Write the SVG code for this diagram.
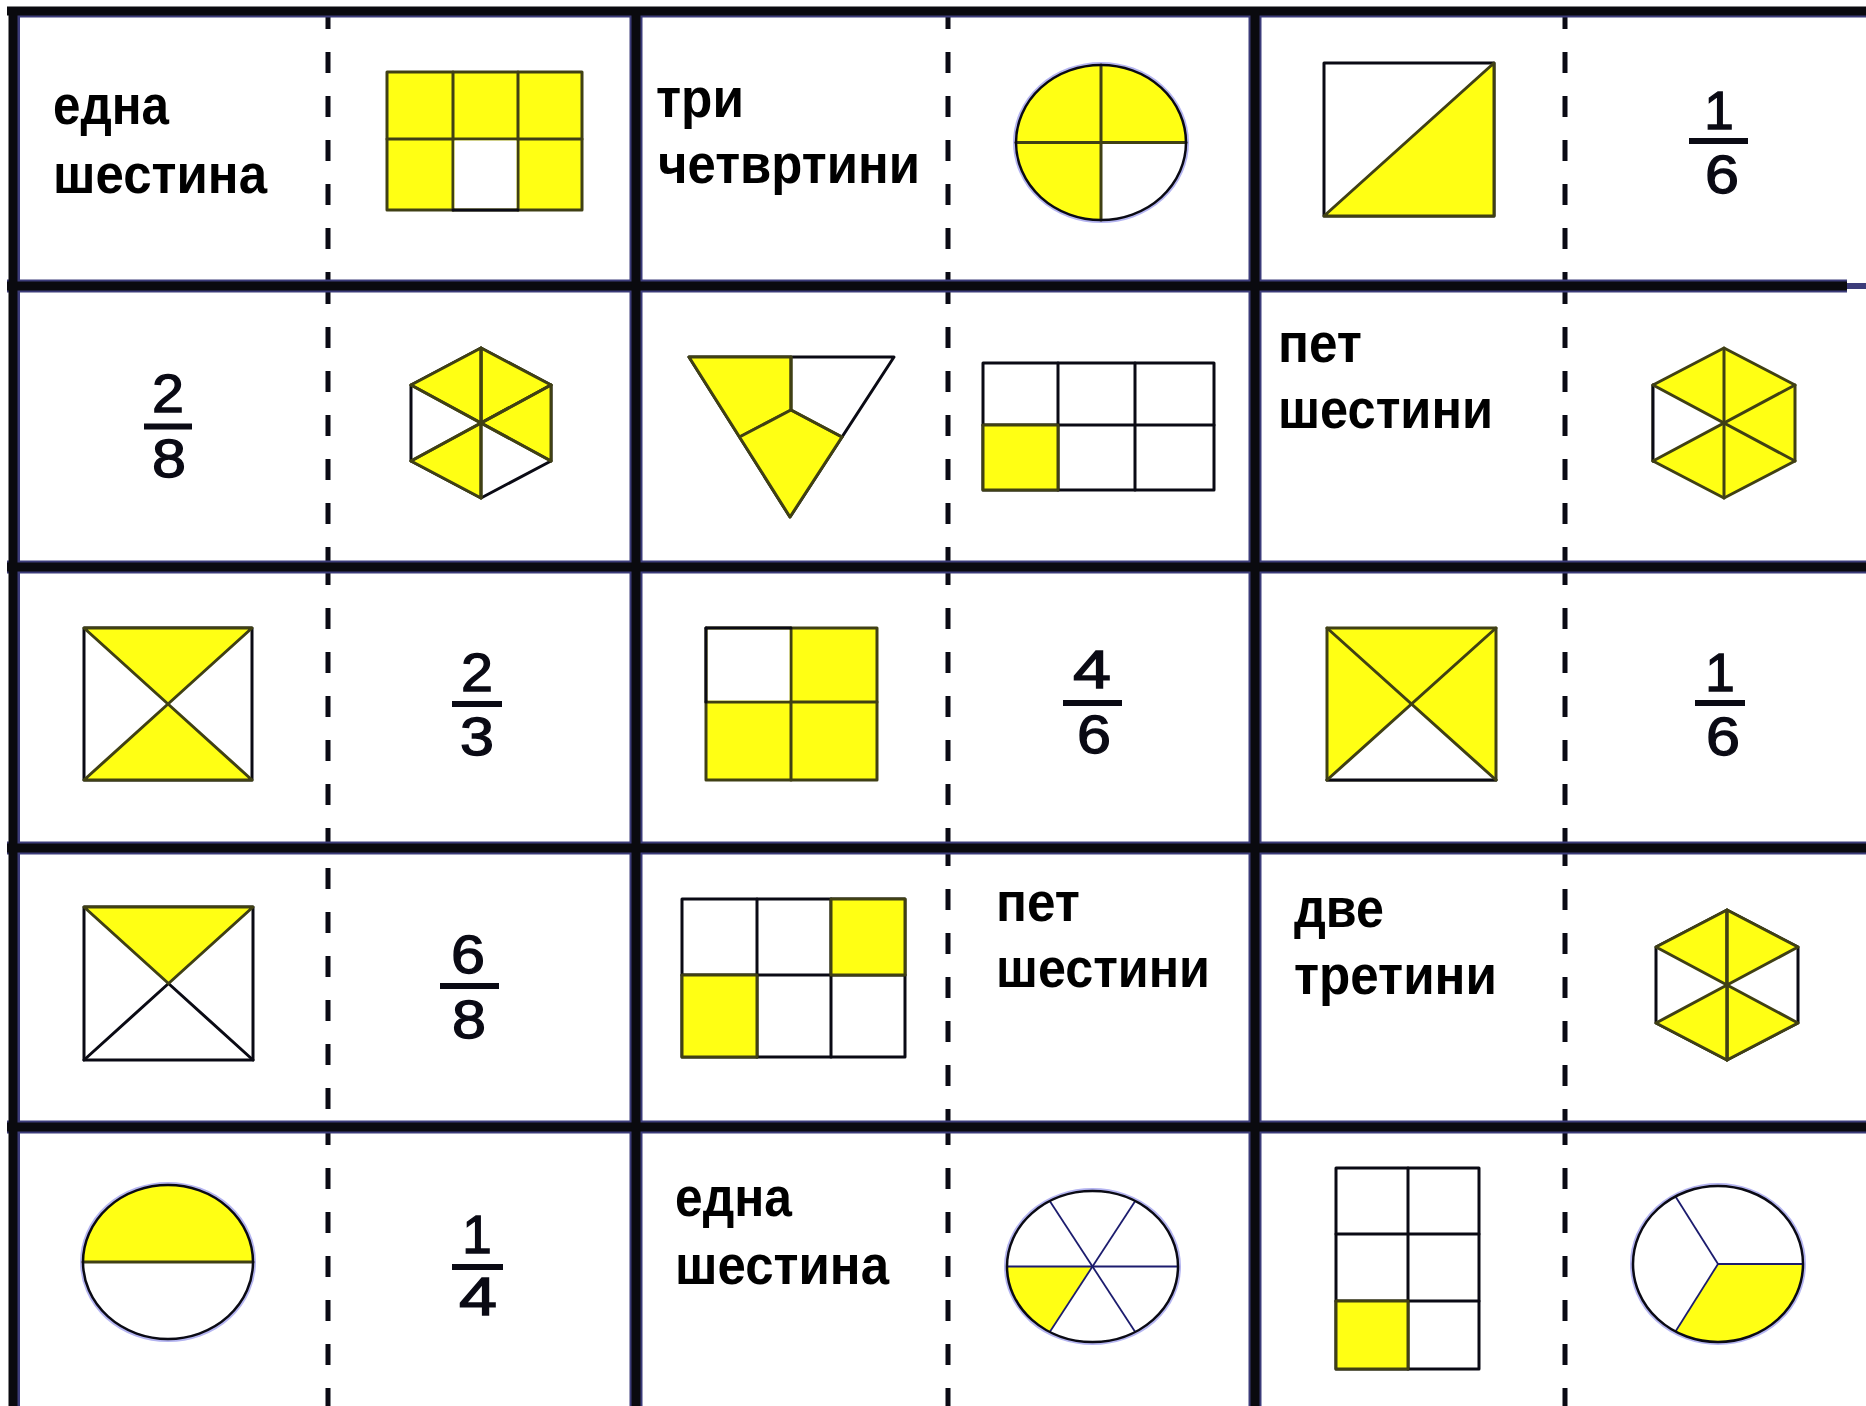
<svg xmlns="http://www.w3.org/2000/svg" width="1866" height="1406" viewBox="0 0 1866 1406">
<defs>
<style>
.y{fill:#ffff14;stroke:#404014;stroke-width:3;stroke-linejoin:round}
.yf{fill:#ffff14;stroke:none}
.wt{fill:#fff;stroke:#0a0a14;stroke-width:3;stroke-linejoin:round}
.wf{fill:#fff;stroke:none}
.ln{fill:none;stroke:#404014;stroke-width:3;stroke-linecap:round}
.lk{fill:none;stroke:#0a0a14;stroke-width:3;stroke-linecap:round}
.halo{fill:none;stroke:#b4b4f0;stroke-width:6}
.ol{fill:none;stroke:#0a0a14;stroke-width:2.5}
.thin{fill:none;stroke:#1c1c6e;stroke-width:1.8}
.word{font-family:"Liberation Sans",Arial,sans-serif;font-weight:bold;font-size:55px;fill:#000}
.dig{font-family:"Liberation Sans",Arial,sans-serif;font-size:53px;fill:#0a0a14;stroke:#0a0a14;stroke-width:1.3;text-anchor:middle}
.bar{fill:#0a0a14}
.dash{stroke:#0a0a14;stroke-width:5;stroke-dasharray:21 23}
.gn{stroke:#3c3c7a;stroke-width:13}
.gk{stroke:#0a0a0f;stroke-width:9}
</style>
</defs>
<rect x="0" y="0" width="1866" height="1406" fill="#fff"/>

<!-- Row 1 -->
<g id="card-1-1">
<text class="word" x="53" y="124" textLength="116" lengthAdjust="spacingAndGlyphs">една</text>
<text class="word" x="53" y="193" textLength="214" lengthAdjust="spacingAndGlyphs">шестина</text>
<rect class="y" x="387" y="72" width="195" height="138"/>
<line class="ln" x1="453" y1="72" x2="453" y2="210"/>
<line class="ln" x1="518" y1="72" x2="518" y2="210"/>
<line class="ln" x1="387" y1="139" x2="582" y2="139"/>
<rect class="wf" x="454.5" y="140.5" width="62" height="68"/>
<line class="lk" x1="453" y1="210" x2="518" y2="210"/>
<line class="dash" x1="328" y1="8" x2="328" y2="286"/>
</g>

<g id="card-1-2">
<text class="word" x="656" y="117" textLength="88" lengthAdjust="spacingAndGlyphs">три</text>
<text class="word" x="658" y="183" textLength="262" lengthAdjust="spacingAndGlyphs">четвртини</text>
<ellipse class="halo" cx="1101" cy="142.5" rx="85" ry="77.5"/>
<ellipse class="yf" cx="1101" cy="142.5" rx="85" ry="77.5"/>
<path class="wf" d="M1101,142.5 L1186,142.5 A85,77.5 0 0 1 1101,220 Z"/>
<line class="ln" x1="1101" y1="65" x2="1101" y2="220"/>
<line class="ln" x1="1016" y1="142.5" x2="1186" y2="142.5"/>
<ellipse class="ol" cx="1101" cy="142.5" rx="85" ry="77.5"/>
<line class="dash" x1="948" y1="8" x2="948" y2="286"/>
</g>

<g id="card-1-3">
<rect class="wt" x="1324" y="63" width="170" height="153"/>
<polygon class="y" points="1324,216 1494,63 1494,216"/>
<text class="dig" x="1719" y="129">1</text>
<rect class="bar" x="1689" y="138" width="59" height="6"/>
<text class="dig" x="1722" y="193" textLength="34" lengthAdjust="spacingAndGlyphs">6</text>
<line class="dash" x1="1565" y1="8" x2="1565" y2="286"/>
</g>

<!-- Row 2 -->
<g id="card-2-1">
<text class="dig" x="168" y="412" textLength="32" lengthAdjust="spacingAndGlyphs">2</text>
<rect class="bar" x="144" y="423.5" width="48" height="6"/>
<text class="dig" x="169" y="477" textLength="34" lengthAdjust="spacingAndGlyphs">8</text>
<polygon class="wt" points="481,348 551,385 551,461 481,498 411,461 411,385"/>
<polygon class="y" points="481,348 551,385 481,423"/>
<polygon class="y" points="551,385 551,461 481,423"/>
<polygon class="y" points="411,385 481,348 481,423"/>
<polygon class="y" points="481,498 411,461 481,423"/>
<line class="ln" x1="481" y1="348" x2="481" y2="498"/>
<line class="ln" x1="411" y1="385" x2="551" y2="461"/>
<line class="ln" x1="551" y1="385" x2="411" y2="461"/>
<line class="dash" x1="328" y1="283" x2="328" y2="567"/>
</g>

<g id="card-2-2">
<polygon class="wt" points="689,357 894,357 790,517"/>
<polygon class="y" points="689,357 791,357 791,410 739.5,437"/>
<polygon class="y" points="739.5,437 791,410 842,437 790,517"/>
<line class="ln" x1="791" y1="357" x2="791" y2="410"/>
<line class="ln" x1="791" y1="410" x2="842" y2="437"/>
<rect class="wt" x="983" y="363" width="231" height="127"/>
<line class="lk" x1="1058" y1="363" x2="1058" y2="490"/>
<line class="lk" x1="1135" y1="363" x2="1135" y2="490"/>
<line class="lk" x1="983" y1="425" x2="1214" y2="425"/>
<rect class="y" x="983" y="425" width="75" height="65"/>
<line class="dash" x1="948" y1="283" x2="948" y2="567"/>
</g>

<g id="card-2-3">
<text class="word" x="1278" y="362" textLength="84" lengthAdjust="spacingAndGlyphs">пет</text>
<text class="word" x="1278" y="428" textLength="215" lengthAdjust="spacingAndGlyphs">шестини</text>
<polygon class="y" points="1724,348 1795,385 1795,461 1724,498 1653,461 1653,385"/>
<polygon class="wf" points="1653,385 1653,461 1724,423"/>
<line class="lk" x1="1653" y1="385" x2="1653" y2="461"/>
<line class="ln" x1="1724" y1="348" x2="1724" y2="498"/>
<line class="ln" x1="1653" y1="385" x2="1795" y2="461"/>
<line class="ln" x1="1795" y1="385" x2="1653" y2="461"/>
<line class="dash" x1="1565" y1="283" x2="1565" y2="567"/>
</g>

<!-- Row 3 -->
<g id="card-3-1">
<rect class="wt" x="84" y="628" width="168" height="152"/>
<polygon class="y" points="84,628 252,628 168,704"/>
<polygon class="y" points="84,780 252,780 168,704"/>
<text class="dig" x="477" y="691" textLength="32" lengthAdjust="spacingAndGlyphs">2</text>
<rect class="bar" x="452" y="701" width="50" height="6"/>
<text class="dig" x="477" y="755" textLength="34" lengthAdjust="spacingAndGlyphs">3</text>
<line class="dash" x1="328" y1="564" x2="328" y2="848"/>
</g>

<g id="card-3-2">
<rect class="y" x="706" y="628" width="171" height="152"/>
<line class="ln" x1="791" y1="628" x2="791" y2="780"/>
<line class="ln" x1="706" y1="702" x2="877" y2="702"/>
<rect class="wf" x="707.5" y="629.5" width="82" height="71"/>
<line class="lk" x1="706" y1="628" x2="791" y2="628"/>
<line class="lk" x1="706" y1="628" x2="706" y2="702"/>
<text class="dig" x="1092" y="688" textLength="38" lengthAdjust="spacingAndGlyphs">4</text>
<rect class="bar" x="1063" y="700" width="59" height="6"/>
<text class="dig" x="1094" y="753" textLength="34" lengthAdjust="spacingAndGlyphs">6</text>
<line class="dash" x1="948" y1="564" x2="948" y2="848"/>
</g>

<g id="card-3-3">
<rect class="y" x="1327" y="628" width="169" height="152"/>
<polygon class="wf" points="1327,780 1496,780 1411.5,704"/>
<line class="lk" x1="1327" y1="780" x2="1496" y2="780"/>
<line class="ln" x1="1327" y1="628" x2="1496" y2="780"/>
<line class="ln" x1="1496" y1="628" x2="1327" y2="780"/>
<text class="dig" x="1720" y="691">1</text>
<rect class="bar" x="1695" y="700" width="50" height="6"/>
<text class="dig" x="1723" y="755" textLength="34" lengthAdjust="spacingAndGlyphs">6</text>
<line class="dash" x1="1565" y1="564" x2="1565" y2="848"/>
</g>

<!-- Row 4 -->
<g id="card-4-1">
<rect class="wt" x="84" y="907" width="169" height="153"/>
<line class="lk" x1="168.5" y1="983.5" x2="84" y2="1060"/>
<line class="lk" x1="168.5" y1="983.5" x2="253" y2="1060"/>
<polygon class="y" points="84,907 253,907 168.5,983.5"/>
<text class="dig" x="468" y="973" textLength="34" lengthAdjust="spacingAndGlyphs">6</text>
<rect class="bar" x="440" y="983" width="59" height="6"/>
<text class="dig" x="469" y="1038" textLength="34" lengthAdjust="spacingAndGlyphs">8</text>
<line class="dash" x1="328" y1="868" x2="328" y2="1127"/>
</g>

<g id="card-4-2">
<rect class="wt" x="682" y="899" width="223" height="158"/>
<line class="lk" x1="757" y1="899" x2="757" y2="1057"/>
<line class="lk" x1="831" y1="899" x2="831" y2="1057"/>
<line class="lk" x1="682" y1="975" x2="905" y2="975"/>
<rect class="y" x="831" y="899" width="74" height="76"/>
<rect class="y" x="682" y="975" width="75" height="82"/>
<text class="word" x="996" y="921" textLength="84" lengthAdjust="spacingAndGlyphs">пет</text>
<text class="word" x="996" y="987" textLength="214" lengthAdjust="spacingAndGlyphs">шестини</text>
<line class="dash" x1="948" y1="845" x2="948" y2="1127"/>
</g>

<g id="card-4-3">
<text class="word" x="1294" y="927" textLength="90" lengthAdjust="spacingAndGlyphs">две</text>
<text class="word" x="1294" y="994" textLength="203" lengthAdjust="spacingAndGlyphs">третини</text>
<polygon class="wt" points="1727,910 1798,947 1798,1023 1727,1060 1656,1023 1656,947"/>
<polygon class="y" points="1656,947 1727,910 1727,985"/>
<polygon class="y" points="1727,910 1798,947 1727,985"/>
<polygon class="y" points="1798,1023 1727,1060 1727,985"/>
<polygon class="y" points="1727,1060 1656,1023 1727,985"/>
<line class="ln" x1="1727" y1="910" x2="1727" y2="1060"/>
<line class="dash" x1="1565" y1="845" x2="1565" y2="1127"/>
</g>

<!-- Row 5 -->
<g id="card-5-1">
<ellipse class="halo" cx="168" cy="1262" rx="85" ry="77"/>
<ellipse class="wf" cx="168" cy="1262" rx="85" ry="77"/>
<path class="yf" d="M83,1262 A85,77 0 0 1 253,1262 Z"/>
<line class="ln" x1="83" y1="1262" x2="253" y2="1262"/>
<ellipse class="ol" cx="168" cy="1262" rx="85" ry="77"/>
<text class="dig" x="477" y="1253">1</text>
<rect class="bar" x="452" y="1264" width="51" height="6"/>
<text class="dig" x="478" y="1315" textLength="38" lengthAdjust="spacingAndGlyphs">4</text>
<line class="dash" x1="328" y1="1124" x2="328" y2="1406"/>
</g>

<g id="card-5-2">
<text class="word" x="675" y="1216" textLength="117" lengthAdjust="spacingAndGlyphs">една</text>
<text class="word" x="675" y="1284" textLength="214" lengthAdjust="spacingAndGlyphs">шестина</text>
<ellipse class="halo" cx="1092.5" cy="1266.5" rx="85.5" ry="75.5"/>
<ellipse class="wf" cx="1092.5" cy="1266.5" rx="85.5" ry="75.5"/>
<path class="yf" d="M1092.5,1266.5 L1007,1266.5 A85.5,75.5 0 0 0 1049.75,1331.9 Z"/>
<line class="thin" x1="1007" y1="1266.5" x2="1178" y2="1266.5"/>
<line class="thin" x1="1049.75" y1="1201.1" x2="1135.25" y2="1331.9"/>
<line class="thin" x1="1135.25" y1="1201.1" x2="1049.75" y2="1331.9"/>
<ellipse class="ol" cx="1092.5" cy="1266.5" rx="85.5" ry="75.5"/>
<line class="dash" x1="948" y1="1124" x2="948" y2="1406"/>
</g>

<g id="card-5-3">
<rect class="wt" x="1336" y="1168" width="143" height="201"/>
<line class="lk" x1="1408" y1="1168" x2="1408" y2="1369"/>
<line class="lk" x1="1336" y1="1234" x2="1479" y2="1234"/>
<line class="lk" x1="1336" y1="1301" x2="1479" y2="1301"/>
<rect class="y" x="1336" y="1301" width="72" height="68"/>
<ellipse class="halo" cx="1718" cy="1264" rx="85" ry="78"/>
<ellipse class="wf" cx="1718" cy="1264" rx="85" ry="78"/>
<path class="yf" d="M1718,1264 L1803,1264 A85,78 0 0 1 1675.5,1331.55 Z"/>
<line class="thin" x1="1718" y1="1264" x2="1803" y2="1264"/>
<line class="thin" x1="1718" y1="1264" x2="1675.5" y2="1196.45"/>
<line class="thin" x1="1718" y1="1264" x2="1675.5" y2="1331.55"/>
<ellipse class="ol" cx="1718" cy="1264" rx="85" ry="78"/>
<line class="dash" x1="1565" y1="1124" x2="1565" y2="1406"/>
</g>

<!-- card rulings -->
<g id="rulings">
<line class="gn" x1="7" y1="286" x2="1847" y2="286"/>
<line stroke="#3c3c7a" stroke-width="6" x1="1847" y1="286" x2="1866" y2="286"/>
<line class="gn" x1="7" y1="567" x2="1866" y2="567"/>
<line class="gn" x1="7" y1="848" x2="1866" y2="848"/>
<line class="gn" x1="7" y1="1127" x2="1866" y2="1127"/>
<line class="gn" x1="636" y1="7" x2="636" y2="1406"/>
<line class="gn" x1="1255" y1="7" x2="1255" y2="1406"/>
<line stroke="#3c3c7a" stroke-width="3" x1="13" y1="16" x2="1866" y2="16"/>
<line stroke="#3c3c7a" stroke-width="3" x1="18.5" y1="7" x2="18.5" y2="1406"/>
<line class="gk" x1="7" y1="11" x2="1866" y2="11"/>
<line class="gk" x1="7" y1="286" x2="1847" y2="286"/>
<line class="gk" x1="7" y1="567" x2="1866" y2="567"/>
<line class="gk" x1="7" y1="848" x2="1866" y2="848"/>
<line class="gk" x1="7" y1="1127" x2="1866" y2="1127"/>
<line class="gk" x1="13" y1="7" x2="13" y2="1406"/>
<line class="gk" x1="636" y1="7" x2="636" y2="1406"/>
<line class="gk" x1="1255" y1="7" x2="1255" y2="1406"/>
</g>
</svg>
